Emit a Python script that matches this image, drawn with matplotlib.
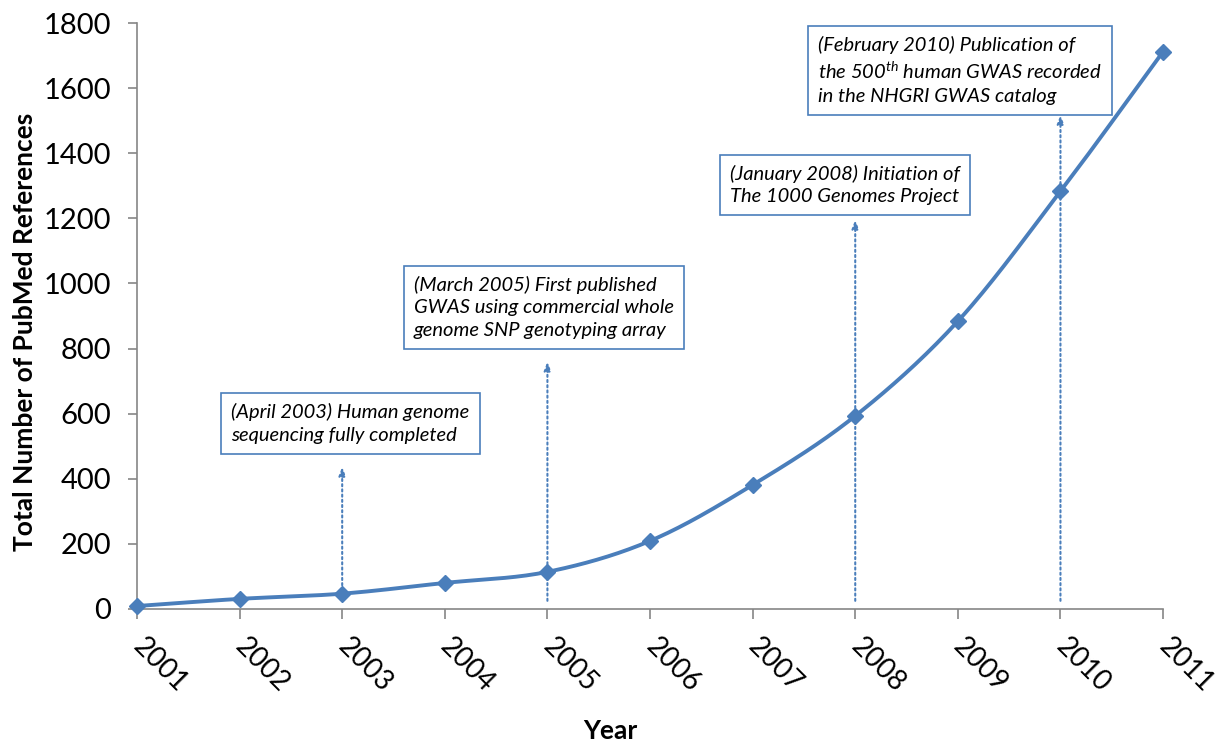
import numpy as np
import matplotlib
matplotlib.use("Agg")
import matplotlib.pyplot as plt

# cumulative PubMed references per year
years = [2001, 2002, 2003, 2004, 2005, 2006, 2007, 2008, 2009, 2010, 2011]
refs = [9, 31, 47, 80, 114, 209, 381, 593, 884, 1283, 1712]

# milestone notes: (year, arrow top value, text)
note_years = [2003, 2005, 2008, 2010]
note_heights = [436, 759, 1195, 1517]
note_texts = [
    "(April 2003) Human genome\nsequencing fully completed",
    "(March 2005) First published\nGWAS using commercial whole\ngenome SNP genotyping array",
    "(January 2008) Initiation of\nThe 1000 Genomes Project",
    "(February 2010) Publication of\nthe 500$^{th}$ human GWAS recorded\nin the NHGRI GWAS catalog",
]
# upper-left corner of each note box (year, value)
note_anchor = [(2001.92, 632), (2003.70, 1024), (2006.78, 1365), (2007.64, 1761)]

blue = "#4a7ebb"
grey = "#868686"

plt.rcParams["font.family"] = ["Lato", "DejaVu Sans"]
plt.rcParams["mathtext.fontset"] = "custom"
plt.rcParams["mathtext.it"] = "Lato:italic"
plt.rcParams["mathtext.rm"] = "Lato:italic"


def catmull_rom(x, y, n=30):
    # smooth curve through the points, like a spreadsheet "smoothed line"
    x = np.asarray(x, float)
    y = np.asarray(y, float)
    px = np.concatenate([[2 * x[0] - x[1]], x, [2 * x[-1] - x[-2]]])
    py = np.concatenate([[2 * y[0] - y[1]], y, [2 * y[-1] - y[-2]]])
    xs, ys = [], []
    t = np.linspace(0, 1, n)
    for i in range(1, len(px) - 2):
        for p, out in ((px, xs), (py, ys)):
            p0, p1, p2, p3 = p[i - 1], p[i], p[i + 1], p[i + 2]
            out.extend(0.5 * (2 * p1 + (-p0 + p2) * t
                              + (2 * p0 - 5 * p1 + 4 * p2 - p3) * t ** 2
                              + (-p0 + 3 * p1 - 3 * p2 + p3) * t ** 3))
    return np.array(xs), np.array(ys)


fig = plt.figure(figsize=(12.23, 7.45), dpi=100)
ax = fig.add_axes([0.112, 0.1826, 0.839, 0.7865])

# dotted arrows from the axis up to the notes
for yr, top in zip(note_years, note_heights):
    ax.annotate("", xy=(yr, top), xytext=(yr, 25),
                arrowprops=dict(arrowstyle="-|>,head_length=0.5,head_width=0.2",
                                color=blue, lw=1.5, linestyle=(0, (1, 1.5)),
                                shrinkA=0, shrinkB=0),
                zorder=2)

sx, sy = catmull_rom(years, refs)
ax.plot(sx, sy, color=blue, lw=2.8, zorder=3, solid_capstyle="round",
        clip_on=False)
ax.plot(years, refs, linestyle="none", marker="D", markersize=8,
        color=blue, zorder=4, clip_on=False)

for (ax_x, ax_y), txt in zip(note_anchor, note_texts):
    ax.text(ax_x, ax_y, txt, ha="left", va="top", fontsize=14.5,
            style="italic", color="black", linespacing=1.4, zorder=5,
            bbox=dict(boxstyle="square,pad=0.5", fc="white", ec=blue, lw=1.2))

ax.set_xlim(2001, 2011)
ax.set_ylim(0, 1800)
ax.set_xticks(years)
ax.set_xticklabels([str(y) for y in years], rotation=-45, ha="left",
                   va="center", rotation_mode="anchor")
ax.set_yticks(np.arange(0, 1801, 200))

for s in ["top", "right"]:
    ax.spines[s].set_visible(False)
for s in ["left", "bottom"]:
    ax.spines[s].set_color(grey)
    ax.spines[s].set_linewidth(1.2)
ax.tick_params(axis="x", length=7, width=1.2, color=grey, labelsize=20, pad=17)
ax.tick_params(axis="y", length=6.5, width=1.2, color=grey, labelsize=21, pad=12)

ax.set_xlabel("Year", fontsize=19, fontweight="bold", va="top")
ax.xaxis.set_label_coords(0.461, -0.188)
ax.set_ylabel("Total Number of PubMed References", fontsize=19,
              fontweight="bold")
ax.yaxis.set_label_coords(-0.097, 0.473)

fig.savefig("out.png", dpi=100)
